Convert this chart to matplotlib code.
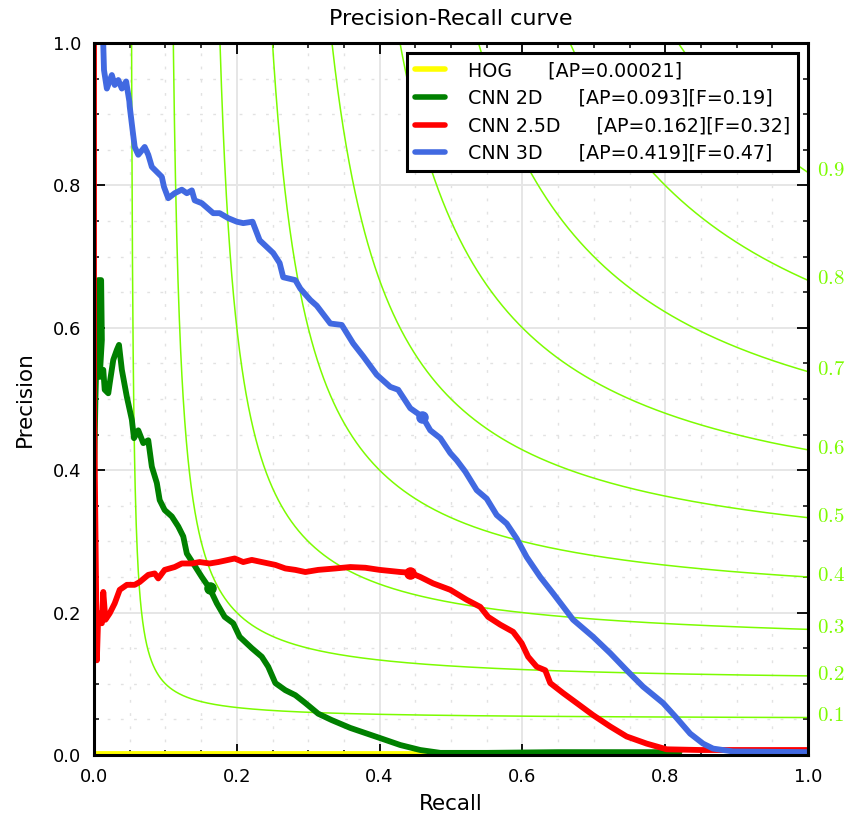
import numpy as np
import matplotlib
matplotlib.use("Agg")
import matplotlib.pyplot as plt
from matplotlib.ticker import MultipleLocator

plt.rcParams['font.family'] = ['DejaVu Sans']
plt.rcParams['mathtext.fontset'] = 'cm'

# ---------------- data ----------------
labels = ["HOG      [AP=0.00021]",
          "CNN 2D      [AP=0.093][F=0.19]",
          "CNN 2.5D      [AP=0.162][F=0.32]",
          "CNN 3D      [AP=0.419][F=0.47]"]
colors = ["#ffff00", "#008000", "#ff0000", "#4169e1"]

hog_recall = [0.0, 0.1, 0.2, 0.3, 0.4, 0.5]
hog_precision = [0.001, 0.001, 0.001, 0.001, 0.001, 0.001]

cnn2d_recall = [0.0, 0.002, 0.004, 0.006, 0.010, 0.011, 0.008, 0.013, 0.015, 0.020,
                0.022, 0.027, 0.032, 0.035, 0.039, 0.046, 0.053, 0.056, 0.062, 0.069,
                0.076, 0.081, 0.088, 0.092, 0.099, 0.109, 0.118, 0.125, 0.130, 0.139,
                0.151, 0.162, 0.172, 0.183, 0.195, 0.204, 0.221, 0.235, 0.244, 0.254,
                0.268, 0.282, 0.296, 0.314, 0.333, 0.359, 0.400, 0.429, 0.457, 0.485,
                0.55, 0.65, 0.75, 0.82]
cnn2d_precision = [0.38, 0.50, 0.58, 0.667, 0.667, 0.583, 0.531, 0.541, 0.513, 0.508,
                   0.522, 0.555, 0.569, 0.576, 0.541, 0.503, 0.471, 0.445, 0.456, 0.438,
                   0.442, 0.405, 0.382, 0.358, 0.344, 0.335, 0.321, 0.307, 0.283, 0.269,
                   0.250, 0.234, 0.213, 0.194, 0.185, 0.166, 0.150, 0.138, 0.124, 0.101,
                   0.091, 0.084, 0.073, 0.058, 0.049, 0.038, 0.024, 0.014, 0.007, 0.003,
                   0.003, 0.004, 0.004, 0.004]

cnn25d_recall = [0.0, 0.0, 0.004, 0.006, 0.011, 0.013, 0.016, 0.022, 0.029, 0.036,
                 0.046, 0.057, 0.064, 0.076, 0.085, 0.090, 0.099, 0.113, 0.123, 0.137,
                 0.148, 0.162, 0.174, 0.197, 0.209, 0.221, 0.235, 0.254, 0.268, 0.282,
                 0.296, 0.314, 0.338, 0.359, 0.380, 0.400, 0.429, 0.443, 0.457, 0.475,
                 0.499, 0.522, 0.541, 0.552, 0.569, 0.587, 0.599, 0.608, 0.620, 0.632,
                 0.639, 0.657, 0.676, 0.699, 0.723, 0.746, 0.774, 0.802, 0.849, 1.0]
cnn25d_precision = [1.0, 0.5, 0.133, 0.199, 0.185, 0.229, 0.190, 0.199, 0.213, 0.232,
                    0.239, 0.239, 0.243, 0.253, 0.255, 0.248, 0.260, 0.264, 0.269, 0.269,
                    0.271, 0.269, 0.271, 0.276, 0.271, 0.274, 0.271, 0.267, 0.262, 0.260,
                    0.257, 0.260, 0.262, 0.264, 0.263, 0.260, 0.257, 0.256, 0.250, 0.241,
                    0.232, 0.218, 0.208, 0.194, 0.183, 0.173, 0.157, 0.138, 0.124, 0.119,
                    0.101, 0.087, 0.073, 0.056, 0.040, 0.026, 0.016, 0.008, 0.007, 0.007]

cnn3d_recall = [0.012, 0.013, 0.014, 0.018, 0.025, 0.029, 0.034, 0.039, 0.045, 0.0495,
                0.050, 0.054, 0.057, 0.062, 0.071, 0.076, 0.081, 0.095, 0.098, 0.104,
                0.113, 0.123, 0.130, 0.137, 0.141, 0.151, 0.167, 0.176, 0.188, 0.200,
                0.209, 0.222, 0.232, 0.251, 0.260, 0.265, 0.282, 0.289, 0.303, 0.312,
                0.331, 0.347, 0.363, 0.377, 0.396, 0.415, 0.426, 0.443, 0.460, 0.471,
                0.485, 0.499, 0.508, 0.520, 0.536, 0.550, 0.564, 0.578, 0.592, 0.606,
                0.625, 0.643, 0.671, 0.699, 0.723, 0.746, 0.769, 0.797, 0.816, 0.835,
                0.853, 0.867, 0.895, 1.0]
cnn3d_precision = [1.05, 0.997, 0.962, 0.936, 0.955, 0.941, 0.948, 0.936, 0.946, 0.918,
                   0.911, 0.878, 0.854, 0.843, 0.854, 0.843, 0.826, 0.812, 0.798, 0.782,
                   0.789, 0.794, 0.789, 0.793, 0.779, 0.775, 0.761, 0.761, 0.754, 0.749,
                   0.747, 0.749, 0.723, 0.705, 0.691, 0.671, 0.667, 0.655, 0.639, 0.631,
                   0.606, 0.604, 0.578, 0.560, 0.534, 0.517, 0.513, 0.487, 0.475, 0.456,
                   0.445, 0.424, 0.414, 0.398, 0.372, 0.360, 0.337, 0.325, 0.304, 0.278,
                   0.250, 0.227, 0.190, 0.166, 0.143, 0.119, 0.096, 0.073, 0.052, 0.030,
                   0.016, 0.009, 0.005, 0.004]

# best-F operating points (marked with dots)
best_recall = [None, 0.1625, 0.443, 0.460]
best_precision = [None, 0.234, 0.256, 0.475]

f_levels = [0.1, 0.2, 0.3, 0.4, 0.5, 0.6, 0.7, 0.8, 0.9]
f_labels = ["0.1", "0.2", "0.3", "0.4", "0.5", "0.6", "0.7", "0.8", "0.9"]

# ---------------- figure ----------------
fig = plt.figure(figsize=(8.59, 8.24), dpi=100)
ax = fig.add_axes([94/859, 1-755/824, 714/859, 712/824])

ax.set_xlim(0, 1)
ax.set_ylim(0, 1)

# grid
ax.xaxis.set_major_locator(MultipleLocator(0.2))
ax.yaxis.set_major_locator(MultipleLocator(0.2))
ax.xaxis.set_minor_locator(MultipleLocator(0.05))
ax.yaxis.set_minor_locator(MultipleLocator(0.05))
ax.grid(which='major', color='#e6e6e6', linewidth=1.4, linestyle='-', zorder=0)
ax.grid(which='minor', color='#e2e2e2', linewidth=1.0, linestyle=(0, (2, 7.5)), zorder=0)
ax.set_axisbelow(True)

# iso-F curves
for f, fl in zip(f_levels, f_labels):
    x = np.linspace(f/2 + 1e-4, 1.0, 2000)
    y = f * x / (2 * x - f)
    ax.plot(x, y, color='#7cfc00', linewidth=1.1, zorder=1)
    ax.text(1.013, f/(2-f) + 0.003, r'$%s$' % fl, color='#7cfc00', fontsize=15,
            ha='left', va='center', transform=ax.transData, clip_on=False)

series = [(hog_recall, hog_precision), (cnn2d_recall, cnn2d_precision),
          (cnn25d_recall, cnn25d_precision), (cnn3d_recall, cnn3d_precision)]
for (r, p), c, lab in zip(series, colors, labels):
    ax.plot(r, p, color=c, linewidth=4.2, label=lab, zorder=3,
            solid_joinstyle='round', solid_capstyle='round')
for br, bp, c in zip(best_recall, best_precision, colors):
    if br is not None:
        ax.plot([br], [bp], 'o', color=c, markersize=8, zorder=4)

# spines and ticks
for s in ax.spines.values():
    s.set_linewidth(2.2)
    s.set_color('black')
    s.set_zorder(5)
ax.tick_params(which='both', direction='in', top=True, right=True, colors='black')
ax.tick_params(which='major', length=8, width=1.3, labelsize=13, pad=9)
ax.tick_params(which='minor', length=3.8, width=1.1)

ax.set_xlabel('Recall', fontsize=15.5, labelpad=6)
ax.set_ylabel('Precision', fontsize=15.5, labelpad=13)
ax.set_title('Precision-Recall curve', fontsize=16, pad=13)

leg = ax.legend(loc='upper right', fontsize=13.7, handlelength=1.55, handletextpad=1.2,
                labelspacing=0.45, borderpad=0.45, borderaxespad=0.5,
                fancybox=False, framealpha=1.0, edgecolor='black')
leg.get_frame().set_linewidth(2.2)
leg.set_zorder(6)
for line in leg.get_lines():
    line.set_linewidth(4.0)

fig.savefig('out.png', dpi=100)
